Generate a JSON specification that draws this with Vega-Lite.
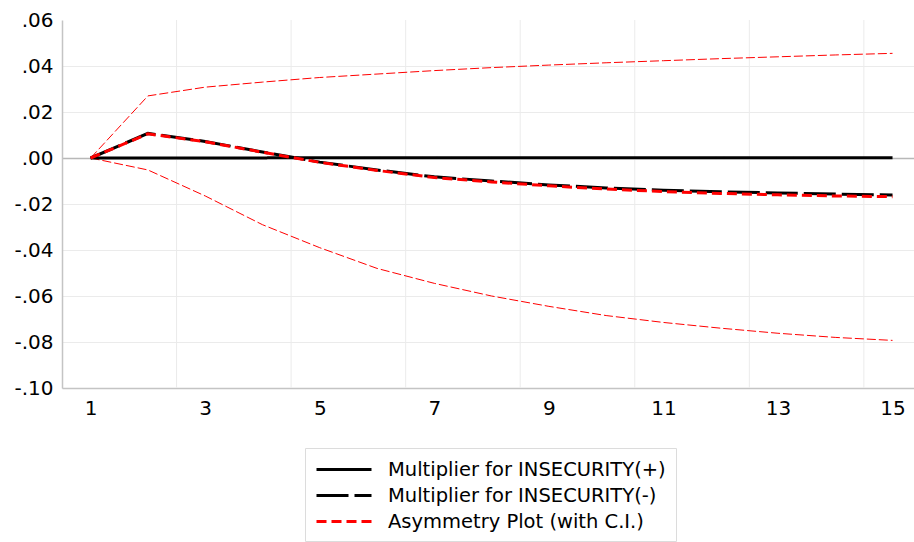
{
  "$schema": "https://vega.github.io/schema/vega-lite/v6.json",
  "width": 852,
  "height": 368,
  "autosize": {"type": "none"},
  "padding": {"left": 62, "top": 20, "right": 0, "bottom": 154},
  "background": "white",
  "config": {
    "font": "DejaVu Sans",
    "view": {"stroke": null},
    "axis": {"labelFont": "DejaVu Sans", "labelFontSize": 20, "labelColor": "#000000", "domainColor": "#c4c4c4", "domainWidth": 1.5, "ticks": false, "title": null},
    "legend": {
      "orient": "none", "legendX": 243, "legendY": 428,
      "direction": "vertical",
      "strokeColor": "#dcdcdc", "fillColor": "#ffffff", "padding": 10,
      "labelFont": "DejaVu Sans", "labelFontSize": 19.5, "labelColor": "#000000",
      "symbolType": "M-1,0L4.5,0", "symbolSize": 400, "symbolStrokeWidth": 3,
      "labelOffset": 50, "rowPadding": 5, "labelLimit": 400
    }
  },
  "datasets": {
    "lines": [
      {"x": 1, "s": "Multiplier for INSECURITY(+)", "y": 0},
      {"x": 2, "s": "Multiplier for INSECURITY(+)", "y": 0.00005},
      {"x": 3, "s": "Multiplier for INSECURITY(+)", "y": 0.00005},
      {"x": 4, "s": "Multiplier for INSECURITY(+)", "y": 0.00005},
      {"x": 5, "s": "Multiplier for INSECURITY(+)", "y": 0.0001},
      {"x": 6, "s": "Multiplier for INSECURITY(+)", "y": 0.0001},
      {"x": 7, "s": "Multiplier for INSECURITY(+)", "y": 0.0001},
      {"x": 8, "s": "Multiplier for INSECURITY(+)", "y": 0.0001},
      {"x": 9, "s": "Multiplier for INSECURITY(+)", "y": 0.0001},
      {"x": 10, "s": "Multiplier for INSECURITY(+)", "y": 0.0001},
      {"x": 11, "s": "Multiplier for INSECURITY(+)", "y": 0.0001},
      {"x": 12, "s": "Multiplier for INSECURITY(+)", "y": 0.0001},
      {"x": 13, "s": "Multiplier for INSECURITY(+)", "y": 0.0001},
      {"x": 14, "s": "Multiplier for INSECURITY(+)", "y": 0.0001},
      {"x": 15, "s": "Multiplier for INSECURITY(+)", "y": 0.0001},
      {"x": 1, "s": "Multiplier for INSECURITY(-)", "y": 0},
      {"x": 2, "s": "Multiplier for INSECURITY(-)", "y": 0.0107},
      {"x": 3, "s": "Multiplier for INSECURITY(-)", "y": 0.0072},
      {"x": 4, "s": "Multiplier for INSECURITY(-)", "y": 0.0026},
      {"x": 5, "s": "Multiplier for INSECURITY(-)", "y": -0.0018},
      {"x": 6, "s": "Multiplier for INSECURITY(-)", "y": -0.0052},
      {"x": 7, "s": "Multiplier for INSECURITY(-)", "y": -0.0082},
      {"x": 8, "s": "Multiplier for INSECURITY(-)", "y": -0.0100},
      {"x": 9, "s": "Multiplier for INSECURITY(-)", "y": -0.0117},
      {"x": 10, "s": "Multiplier for INSECURITY(-)", "y": -0.0130},
      {"x": 11, "s": "Multiplier for INSECURITY(-)", "y": -0.0140},
      {"x": 12, "s": "Multiplier for INSECURITY(-)", "y": -0.0147},
      {"x": 13, "s": "Multiplier for INSECURITY(-)", "y": -0.0152},
      {"x": 14, "s": "Multiplier for INSECURITY(-)", "y": -0.0157},
      {"x": 15, "s": "Multiplier for INSECURITY(-)", "y": -0.0161},
      {"x": 1, "s": "Asymmetry Plot (with C.I.)", "y": 0},
      {"x": 2, "s": "Asymmetry Plot (with C.I.)", "y": 0.0105},
      {"x": 3, "s": "Asymmetry Plot (with C.I.)", "y": 0.0071},
      {"x": 4, "s": "Asymmetry Plot (with C.I.)", "y": 0.0025},
      {"x": 5, "s": "Asymmetry Plot (with C.I.)", "y": -0.0019},
      {"x": 6, "s": "Asymmetry Plot (with C.I.)", "y": -0.0054},
      {"x": 7, "s": "Asymmetry Plot (with C.I.)", "y": -0.0085},
      {"x": 8, "s": "Asymmetry Plot (with C.I.)", "y": -0.0104},
      {"x": 9, "s": "Asymmetry Plot (with C.I.)", "y": -0.0121},
      {"x": 10, "s": "Asymmetry Plot (with C.I.)", "y": -0.0135},
      {"x": 11, "s": "Asymmetry Plot (with C.I.)", "y": -0.0146},
      {"x": 12, "s": "Asymmetry Plot (with C.I.)", "y": -0.0154},
      {"x": 13, "s": "Asymmetry Plot (with C.I.)", "y": -0.0160},
      {"x": 14, "s": "Asymmetry Plot (with C.I.)", "y": -0.0165},
      {"x": 15, "s": "Asymmetry Plot (with C.I.)", "y": -0.0168},
      {"x": 1, "s": "Upper C.I.", "y": 0},
      {"x": 2, "s": "Upper C.I.", "y": 0.0270},
      {"x": 3, "s": "Upper C.I.", "y": 0.0308},
      {"x": 4, "s": "Upper C.I.", "y": 0.0330},
      {"x": 5, "s": "Upper C.I.", "y": 0.0350},
      {"x": 6, "s": "Upper C.I.", "y": 0.0365},
      {"x": 7, "s": "Upper C.I.", "y": 0.0380},
      {"x": 8, "s": "Upper C.I.", "y": 0.0393},
      {"x": 9, "s": "Upper C.I.", "y": 0.0404},
      {"x": 10, "s": "Upper C.I.", "y": 0.0414},
      {"x": 11, "s": "Upper C.I.", "y": 0.0423},
      {"x": 12, "s": "Upper C.I.", "y": 0.0432},
      {"x": 13, "s": "Upper C.I.", "y": 0.0440},
      {"x": 14, "s": "Upper C.I.", "y": 0.0448},
      {"x": 15, "s": "Upper C.I.", "y": 0.0455},
      {"x": 1, "s": "Lower C.I.", "y": 0},
      {"x": 2, "s": "Lower C.I.", "y": -0.0052},
      {"x": 3, "s": "Lower C.I.", "y": -0.0165},
      {"x": 4, "s": "Lower C.I.", "y": -0.0290},
      {"x": 5, "s": "Lower C.I.", "y": -0.0390},
      {"x": 6, "s": "Lower C.I.", "y": -0.0480},
      {"x": 7, "s": "Lower C.I.", "y": -0.0545},
      {"x": 8, "s": "Lower C.I.", "y": -0.0600},
      {"x": 9, "s": "Lower C.I.", "y": -0.0645},
      {"x": 10, "s": "Lower C.I.", "y": -0.0685},
      {"x": 11, "s": "Lower C.I.", "y": -0.0715},
      {"x": 12, "s": "Lower C.I.", "y": -0.0740},
      {"x": 13, "s": "Lower C.I.", "y": -0.0762},
      {"x": 14, "s": "Lower C.I.", "y": -0.0780},
      {"x": 15, "s": "Lower C.I.", "y": -0.0793}
    ],
    "vgrid": [{"g": 2.5}, {"g": 4.5}, {"g": 6.5}, {"g": 8.5}, {"g": 10.5}, {"g": 12.5}, {"g": 14.5}]
  },
  "encoding": {
    "x": {
      "field": "x", "type": "quantitative",
      "scale": {"domain": [0.5, 15.375], "nice": false, "zero": false},
      "axis": {"values": [1, 3, 5, 7, 9, 11, 13, 15], "grid": false, "labelPadding": 10, "labelFlush": false}
    },
    "y": {
      "field": "y", "type": "quantitative",
      "scale": {"domain": [-0.1, 0.06], "nice": false},
      "axis": {
        "values": [-0.1, -0.08, -0.06, -0.04, -0.02, 0, 0.02, 0.04, 0.06],
        "labelExpr": "replace(replace(format(datum.value, '.2f'), '0.', '.'), '\u2212', '-')",
        "labelPadding": 9,
        "labelFlush": false,
        "grid": true,
        "gridColor": {"condition": {"test": "abs(datum.value) < 0.0001", "value": "#b8b8b8"}, "value": "#ebebeb"},
        "gridWidth": {"condition": {"test": "abs(datum.value) < 0.0001", "value": 1.5}, "value": 1},
        "gridOpacity": {"condition": {"test": "datum.value > 0.059", "value": 0}, "value": 1}
      }
    }
  },
  "layer": [
    {
      "data": {"name": "vgrid"},
      "mark": {"type": "rule", "color": "#ebebeb", "strokeWidth": 1},
      "encoding": {"x": {"field": "g", "type": "quantitative"}, "y": null}
    },
    {
      "data": {"name": "lines"},
      "transform": [{"filter": "datum.s === 'Upper C.I.' || datum.s === 'Lower C.I.'"}],
      "mark": {"type": "line", "color": "#ff0000", "strokeWidth": 1, "strokeDash": [9, 3]},
      "encoding": {"detail": {"field": "s"}}
    },
    {
      "data": {"name": "lines"},
      "transform": [{"filter": "datum.s === 'Multiplier for INSECURITY(+)'"}],
      "mark": {"type": "line", "strokeWidth": 3},
      "encoding": {
        "color": {"field": "s", "type": "nominal", "title": null, "scale": {"domain": ["Multiplier for INSECURITY(+)", "Multiplier for INSECURITY(-)", "Asymmetry Plot (with C.I.)"], "range": ["#000000", "#000000", "#ff0000"]}},
        "strokeDash": {"field": "s", "type": "nominal", "title": null, "scale": {"domain": ["Multiplier for INSECURITY(+)", "Multiplier for INSECURITY(-)", "Asymmetry Plot (with C.I.)"], "range": [[1, 0], [32, 6], [10, 5]]}}
      }
    },
    {
      "data": {"name": "lines"},
      "transform": [{"filter": "datum.s === 'Multiplier for INSECURITY(-)'"}],
      "mark": {"type": "line", "strokeWidth": 3},
      "encoding": {
        "color": {"field": "s", "type": "nominal", "title": null},
        "strokeDash": {"field": "s", "type": "nominal", "title": null}
      }
    },
    {
      "data": {"name": "lines"},
      "transform": [{"filter": "datum.s === 'Asymmetry Plot (with C.I.)'"}],
      "mark": {"type": "line", "strokeWidth": 3},
      "encoding": {
        "color": {"field": "s", "type": "nominal", "title": null},
        "strokeDash": {"field": "s", "type": "nominal", "title": null}
      }
    }
  ]
}
